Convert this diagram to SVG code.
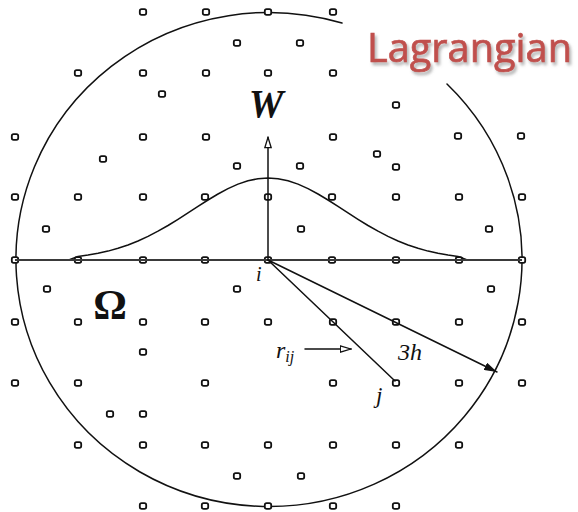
<svg xmlns="http://www.w3.org/2000/svg" xmlns:xlink="http://www.w3.org/1999/xlink" width="578" height="512" viewBox="0 0 578 512">
<style>
.ln{fill:none;stroke:#111;stroke-width:1.5;stroke-linejoin:round;stroke-linecap:round}
.axis{fill:none;stroke:#3a3a3a;stroke-width:2}
.pt{fill:#fff;stroke:#111;stroke-width:1.8}
.lbl{font-family:"Liberation Serif","Times New Roman",serif;font-style:italic;fill:#111}
.title{font-family:"Open Sans","Noto Sans",sans-serif;fill:#c0504d;stroke:#c0504d;stroke-width:0.7}
</style>
<defs>
<rect id="p" class="pt" x="-3.2" y="-2.8" width="6.4" height="5.6" rx="1.8"/>
<marker id="open" markerUnits="userSpaceOnUse" viewBox="0 0 12 8" refX="11.5" refY="4" markerWidth="12" markerHeight="8" orient="auto">
<path d="M0.8,0.8 L11.2,4 L0.8,7.2 Z" fill="#fff" stroke="#111" stroke-width="1.3"/>
</marker>
<marker id="solid" markerUnits="userSpaceOnUse" viewBox="0 0 13 8" refX="13" refY="4" markerWidth="13" markerHeight="8" orient="auto">
<path d="M0,0 L13,4 L0,8 Z" fill="#111"/>
</marker>
<filter id="sh" x="-10%" y="-20%" width="130%" height="160%">
<feDropShadow dx="2" dy="3" stdDeviation="1.6" flood-color="#777" flood-opacity="0.55"/>
</filter>
</defs>
<rect width="578" height="512" fill="#fff"/>

<g id="domain">
<path class="ln" d="M447,84 A253,247 0 1 1 342,23"/>
</g>

<g id="particles">
<use xlink:href="#p" x="143" y="12"/><use xlink:href="#p" x="206" y="12"/><use xlink:href="#p" x="268" y="12"/><use xlink:href="#p" x="333" y="12"/>
<use xlink:href="#p" x="237" y="43"/><use xlink:href="#p" x="300" y="43"/>
<use xlink:href="#p" x="78" y="73"/><use xlink:href="#p" x="143" y="73"/><use xlink:href="#p" x="206" y="73"/><use xlink:href="#p" x="268" y="73"/><use xlink:href="#p" x="333" y="73"/>
<use xlink:href="#p" x="162" y="94"/><use xlink:href="#p" x="396" y="105"/>
<use xlink:href="#p" x="15" y="137"/><use xlink:href="#p" x="143" y="137"/><use xlink:href="#p" x="206" y="137"/><use xlink:href="#p" x="333" y="137"/><use xlink:href="#p" x="458" y="136"/><use xlink:href="#p" x="521" y="136"/>
<use xlink:href="#p" x="377" y="154"/><use xlink:href="#p" x="103" y="159"/>
<use xlink:href="#p" x="237" y="166"/><use xlink:href="#p" x="300" y="166"/><use xlink:href="#p" x="396" y="167"/>
<use xlink:href="#p" x="15" y="197"/><use xlink:href="#p" x="78" y="197"/><use xlink:href="#p" x="143" y="197"/><use xlink:href="#p" x="205" y="197"/><use xlink:href="#p" x="268" y="197"/><use xlink:href="#p" x="332" y="197"/><use xlink:href="#p" x="396" y="197"/><use xlink:href="#p" x="459" y="197"/><use xlink:href="#p" x="522" y="197"/>
<use xlink:href="#p" x="46" y="229"/><use xlink:href="#p" x="301" y="229"/><use xlink:href="#p" x="489" y="229"/>
<use xlink:href="#p" x="15" y="260"/><use xlink:href="#p" x="78" y="260"/><use xlink:href="#p" x="143" y="260"/><use xlink:href="#p" x="205" y="260"/><use xlink:href="#p" x="268" y="260"/><use xlink:href="#p" x="332" y="260"/><use xlink:href="#p" x="396" y="260"/><use xlink:href="#p" x="459" y="260"/><use xlink:href="#p" x="522" y="260"/>
<use xlink:href="#p" x="47" y="289"/><use xlink:href="#p" x="237" y="289"/><use xlink:href="#p" x="491" y="289"/>
<use xlink:href="#p" x="15" y="322"/><use xlink:href="#p" x="78" y="322"/><use xlink:href="#p" x="143" y="322"/><use xlink:href="#p" x="205" y="322"/><use xlink:href="#p" x="268" y="322"/><use xlink:href="#p" x="333" y="322"/><use xlink:href="#p" x="396" y="322"/><use xlink:href="#p" x="459" y="322"/><use xlink:href="#p" x="522" y="322"/>
<use xlink:href="#p" x="143" y="352"/>
<use xlink:href="#p" x="15" y="383"/><use xlink:href="#p" x="78" y="383"/><use xlink:href="#p" x="205" y="383"/><use xlink:href="#p" x="333" y="383"/><use xlink:href="#p" x="396" y="383"/><use xlink:href="#p" x="459" y="383"/><use xlink:href="#p" x="522" y="383"/>
<use xlink:href="#p" x="110" y="414"/><use xlink:href="#p" x="143" y="414"/>
<use xlink:href="#p" x="78" y="445"/><use xlink:href="#p" x="143" y="445"/><use xlink:href="#p" x="205" y="445"/><use xlink:href="#p" x="268" y="445"/><use xlink:href="#p" x="333" y="445"/><use xlink:href="#p" x="396" y="445"/><use xlink:href="#p" x="459" y="445"/>
<use xlink:href="#p" x="237" y="476"/><use xlink:href="#p" x="301" y="476"/>
<use xlink:href="#p" x="143" y="506"/><use xlink:href="#p" x="205" y="506"/><use xlink:href="#p" x="268" y="506"/><use xlink:href="#p" x="333" y="506"/><use xlink:href="#p" x="396" y="506"/>
</g>

<g id="kernel">
<polyline class="ln" points="70,259.5 78,256.4 88,255 98,253.3 108,251.1 118,248.3 128,245 138,241 148,236.4 158,231.2 168,225.5 178,219.3 188,212.9 198,206.4 208,200 218,194 228,188.6 238,184.1 248,180.8 258,178.7 268,178 278,178.7 288,180.8 298,184.1 308,188.6 318,194 328,200 338,206.4 348,212.9 358,219.3 368,225.5 378,231.2 388,236.4 398,241 408,245 418,248.3 428,251.1 438,253.3 448,255 458,256.4 466,259.5"/>
</g>

<g id="connectors">
<line class="axis" x1="15" y1="260" x2="522" y2="260"/>
<line class="ln" x1="268" y1="260" x2="268" y2="137" marker-end="url(#open)"/>
<line class="ln" x1="268" y1="260" x2="395" y2="381"/>
<line class="ln" x1="268" y1="260" x2="497" y2="372" marker-end="url(#solid)"/>
<line class="ln" x1="305" y1="349" x2="351" y2="349" marker-end="url(#open)"/>
</g>

<g id="labels">
<text class="lbl" x="266" y="117" font-size="39" font-weight="bold" text-anchor="middle">W</text>
<text class="lbl" x="256" y="281" font-size="20">i</text>
<text class="lbl" x="276" y="358" font-size="24">r<tspan font-size="16" dy="4">ij</tspan></text>
<text class="lbl" x="398" y="360" font-size="24">3h</text>
<text class="lbl" x="376" y="403" font-size="23">j</text>
<text x="110" y="319" font-size="42" font-weight="bold" text-anchor="middle" font-family="'Liberation Serif','Times New Roman',serif" fill="#111">Ω</text>
</g>

<g id="title">
<text class="title" x="367" y="62" font-size="41" textLength="205" lengthAdjust="spacingAndGlyphs" filter="url(#sh)">Lagrangian</text>
</g>
</svg>
